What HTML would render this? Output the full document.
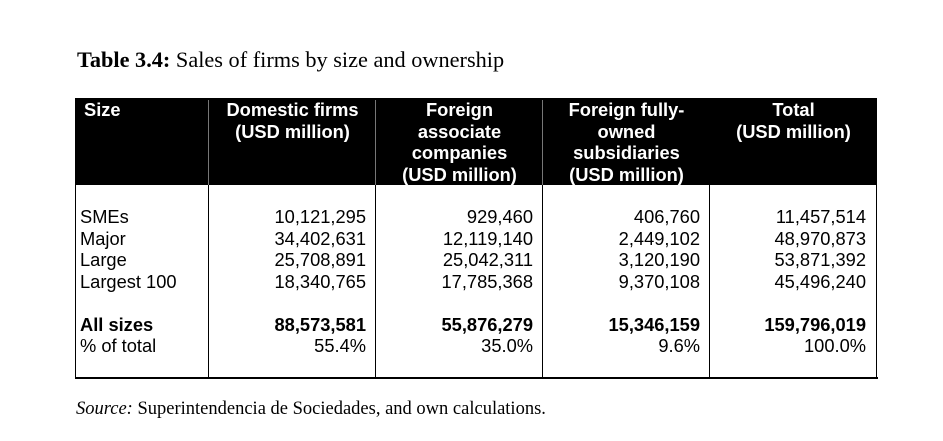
<!DOCTYPE html>
<html><head><style>
body{margin:0;background:#fff;width:943px;height:441px;position:relative;overflow:hidden;font-family:"Liberation Sans",Arial,sans-serif;}
.t{position:absolute;white-space:nowrap;}
.title{left:77px;top:47px;font-family:"Liberation Serif",serif;font-size:22.3px;}
.src{left:76px;top:399px;font-family:"Liberation Serif",serif;font-size:18.5px;}
.hdr{position:absolute;left:75px;top:98px;width:802px;height:87px;background:#000;}
.vl{position:absolute;width:1px;background:#000;top:98px;height:281px;}
.vw{position:absolute;width:1px;background:#777;top:100px;height:85px;}
.hl{position:absolute;height:2px;background:#000;left:75px;width:803px;top:377px;}
.h{position:absolute;color:#fff;font-weight:bold;font-size:18.3px;line-height:21.5px;text-align:center;top:99px;}
.c{position:absolute;font-size:18.3px;line-height:21.5px;top:206px;}
.r{text-align:right;}
</style></head><body>
<div class="t title"><b>Table 3.4:</b> Sales of firms by size and ownership</div>
<div class="hdr"></div>
<div class="vl" style="left:75px"></div>
<div class="vl" style="left:208px"></div>
<div class="vl" style="left:375px"></div>
<div class="vl" style="left:542px"></div>
<div class="vl" style="left:709px"></div>
<div class="vl" style="left:876px"></div>
<div class="vw" style="left:208px"></div>
<div class="vw" style="left:375px"></div>
<div class="vw" style="left:542px"></div>
<div class="hl"></div>
<div class="h" style="left:84px;text-align:left">Size</div>
<div class="h" style="left:209px;width:167px">Domestic firms<br>(USD million)</div>
<div class="h" style="left:376px;width:167px">Foreign<br>associate<br>companies<br>(USD million)</div>
<div class="h" style="left:543px;width:167px">Foreign fully-<br>owned<br>subsidiaries<br>(USD million)</div>
<div class="h" style="left:710px;width:167px">Total<br>(USD million)</div>

<div class="c" style="left:80px">SMEs<br>Major<br>Large<br>Largest 100<br><br><b>All sizes</b><br>% of total</div>
<div class="c r" style="right:577px">10,121,295<br>34,402,631<br>25,708,891<br>18,340,765<br><br><b>88,573,581</b><br>55.4%</div>
<div class="c r" style="right:410px">929,460<br>12,119,140<br>25,042,311<br>17,785,368<br><br><b>55,876,279</b><br>35.0%</div>
<div class="c r" style="right:243px">406,760<br>2,449,102<br>3,120,190<br>9,370,108<br><br><b>15,346,159</b><br>9.6%</div>
<div class="c r" style="right:77px">11,457,514<br>48,970,873<br>53,871,392<br>45,496,240<br><br><b>159,796,019</b><br>100.0%</div>

<div class="t src"><i>Source:</i> Superintendencia de Sociedades, and own calculations.</div>
</body></html>
